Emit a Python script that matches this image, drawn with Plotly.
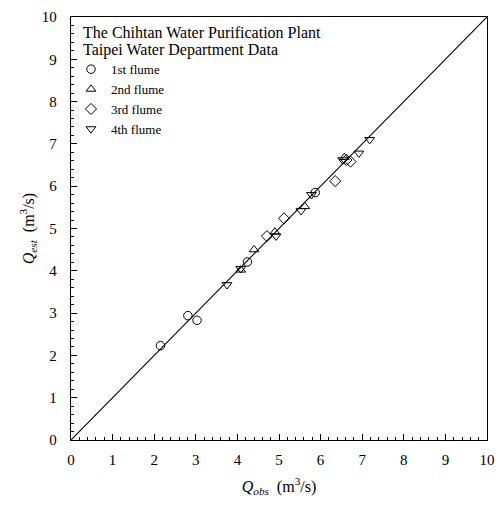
import plotly.graph_objects as go

# 1st flume
f1_obs = [2.15, 2.81, 3.03, 4.24, 5.87]
f1_est = [2.23, 2.94, 2.83, 4.21, 5.85]
# 2nd flume
f2_obs = [4.08, 4.40, 4.90, 5.62, 6.57]
f2_est = [4.02, 4.50, 4.92, 5.52, 6.68]
# 3rd flume
f3_obs = [4.71, 5.12, 6.35, 6.72, 6.62]
f3_est = [4.82, 5.24, 6.12, 6.58, 6.62]
# 4th flume
f4_obs = [3.75, 4.08, 4.93, 5.53, 5.78, 6.53, 6.92, 7.18]
f4_est = [3.67, 4.05, 4.82, 5.42, 5.80, 6.62, 6.78, 7.10]

line_x = [0, 10]
line_y = [0, 10]

series = [
    ("1st flume", f1_obs, f1_est, "circle-open"),
    ("2nd flume", f2_obs, f2_est, "triangle-up-open"),
    ("3rd flume", f3_obs, f3_est, "diamond-open"),
    ("4th flume", f4_obs, f4_est, "triangle-down-open"),
]

title_lines = ["The Chihtan Water Purification Plant", "Taipei Water Department Data"]

FONT = "Liberation Serif, Times New Roman, serif"

fig = go.Figure()
fig.add_trace(go.Scatter(x=line_x, y=line_y, mode="lines",
                         line=dict(color="black", width=1.1),
                         showlegend=False, hoverinfo="skip"))
for name, xs, ys, sym in series:
    fig.add_trace(go.Scatter(x=xs, y=ys, mode="markers", name=name,
                             marker=dict(symbol=sym, size=8.5, color="black",
                                         line=dict(color="black", width=1))))

axis_common = dict(
    range=[0, 10], dtick=1, ticks="inside", ticklen=6, tickwidth=1,
    tickcolor="black", showline=True, linecolor="black", linewidth=1.3,
    mirror=True, showgrid=False, zeroline=False,
    tickfont=dict(family=FONT, size=15, color="black"),
    ticklabeloverflow="allow",
    minor=dict(dtick=0.2, ticks="inside", ticklen=3, tickcolor="black"),
)

fig.update_layout(
    width=504, height=508,
    margin=dict(l=71, r=9, t=11, b=68),
    plot_bgcolor="white", paper_bgcolor="white",
    font=dict(family=FONT, color="black"),
    xaxis=dict(**axis_common, ticklabelstandoff=6,
               title=dict(text="<i>Q<sub>obs</sub></i>  (m<sup>3</sup>/s)",
                          font=dict(family=FONT, size=16), standoff=13)),
    yaxis=dict(**axis_common, ticklabelstandoff=10,
               title=dict(text="<i>Q<sub>est</sub></i>  (m<sup>3</sup>/s)",
                          font=dict(family=FONT, size=16), standoff=3)),
    legend=dict(x=0.0, y=0.912, xanchor="left", yanchor="top",
                bgcolor="rgba(0,0,0,0)", font=dict(family=FONT, size=13),
                itemwidth=30, tracegroupgap=0),
    annotations=[
        dict(text=title_lines[0], xref="paper", yref="paper", x=0.025, y=0.963,
             xanchor="left", yanchor="middle", showarrow=False,
             font=dict(family=FONT, size=16, color="black")),
        dict(text=title_lines[1], xref="paper", yref="paper", x=0.025, y=0.922,
             xanchor="left", yanchor="middle", showarrow=False,
             font=dict(family=FONT, size=16, color="black")),
    ],
)

fig.write_html("out.html",
               config={"displayModeBar": False},
               post_script="document.body.style.margin='0';"
                           "document.body.style.overflow='hidden';")
